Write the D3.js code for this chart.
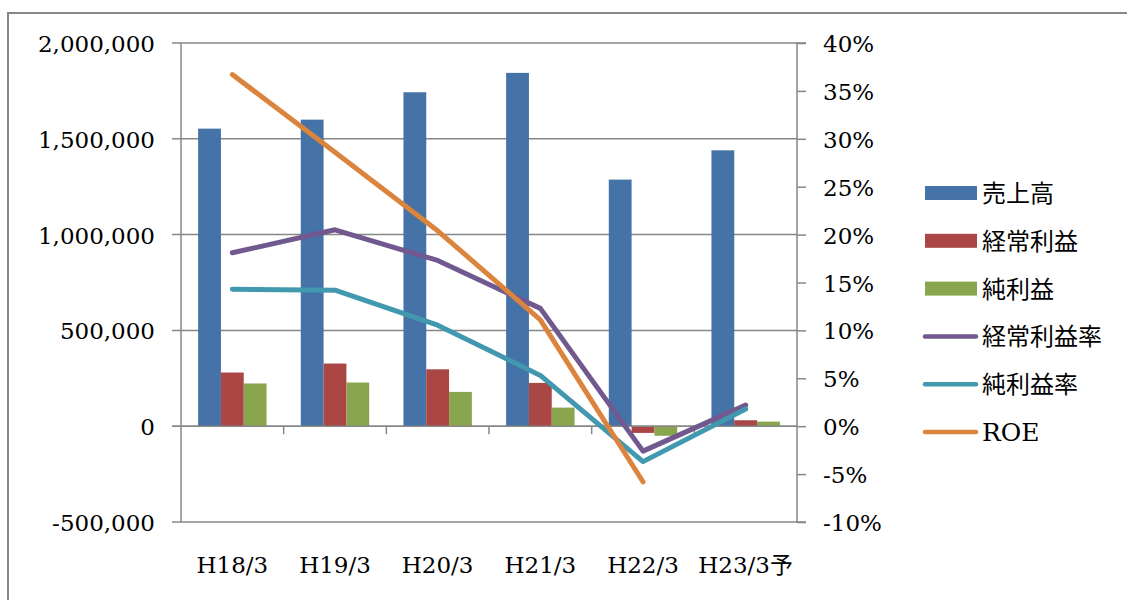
<!DOCTYPE html>
<html>
<head>
<meta charset="utf-8">
<script src="https://cdn.jsdelivr.net/npm/d3@7"></script>
<style>
  html, body { margin: 0; padding: 0; background: #fff; }
  svg { display: block; }
  .num { font-family: "DejaVu Serif", "Liberation Serif", serif; font-size: 23px; fill: #000; }
  .jp { font-family: "Noto Sans CJK JP", "DejaVu Serif", serif; font-size: 24px; fill: #000; }
</style>
</head>
<body>
<svg id="chart" width="1127" height="600"></svg>
<script>
// Fiscal periods
const categories = ["H18/3", "H19/3", "H20/3", "H21/3", "H22/3", "H23/3予"];

// Amounts (left axis)
const sales        = [1553000, 1600000, 1743000, 1844000, 1287000, 1440000]; // 売上高
const ordinary     = [280000, 327000, 297000, 226000, -35000, 31000];        // 経常利益
const netIncome    = [223000, 228000, 179000, 97000, -50000, 24000];         // 純利益

// Ratios (right axis)
const ordinaryRate = [0.181, 0.205, 0.173, 0.123, -0.026, 0.022];            // 経常利益率
const netRate      = [0.143, 0.142, 0.1055, 0.053, -0.037, 0.018];           // 純利益率
const roe          = [0.367, 0.286, 0.204, 0.111, -0.058, null];             // ROE

const leftTicks  = [-500000, 0, 500000, 1000000, 1500000, 2000000];
const rightTicks = [-0.10, -0.05, 0, 0.05, 0.10, 0.15, 0.20, 0.25, 0.30, 0.35, 0.40];

const barSeries = [
  { name: "売上高",   values: sales,     color: "#4572A7" },
  { name: "経常利益", values: ordinary,  color: "#AA4643" },
  { name: "純利益",   values: netIncome, color: "#89A54E" }
];
const lineSeries = [
  { name: "経常利益率", values: ordinaryRate, color: "#71588F" },
  { name: "純利益率",   values: netRate,      color: "#4198AF" },
  { name: "ROE",        values: roe,          color: "#DB843D" }
];

const svg = d3.select("#chart");
const gridColor = "#878787";

const plot = { left: 181, right: 797, top: 43, bottom: 522 };

const x = d3.scaleBand().domain(categories).range([plot.left, plot.right]).paddingInner(0).paddingOuter(0);
const yL = d3.scaleLinear().domain([-500000, 2000000]).range([plot.bottom, plot.top]);
const yR = d3.scaleLinear().domain([-0.10, 0.40]).range([plot.bottom, plot.top]);

// outer frame
svg.append("rect")
  .attr("x", 8).attr("y", 13).attr("width", 1130).attr("height", 600)
  .attr("fill", "none").attr("stroke", gridColor).attr("stroke-width", 2);

// horizontal gridlines (with outward tick on the left)
svg.append("g").selectAll("line").data(leftTicks).join("line")
  .attr("x1", plot.left - 9).attr("x2", plot.right)
  .attr("y1", d => yL(d)).attr("y2", d => yL(d))
  .attr("stroke", gridColor).attr("stroke-width", 1.5);

// bars: gap width 150% of a bar
const bw = x.bandwidth() / 4.5;
const barG = svg.append("g");
barSeries.forEach((s, i) => {
  barG.append("g").selectAll("rect").data(s.values).join("rect")
    .attr("x", (d, j) => x(categories[j]) + 0.75 * bw + i * bw)
    .attr("width", bw)
    .attr("y", d => Math.min(yL(d), yL(0)))
    .attr("height", d => Math.abs(yL(d) - yL(0)))
    .attr("fill", s.color);
});

// zero line over the bars
svg.append("line")
  .attr("x1", plot.left - 9).attr("x2", plot.right)
  .attr("y1", yL(0)).attr("y2", yL(0))
  .attr("stroke", gridColor).attr("stroke-width", 1.5);

// category tick marks below the zero line
svg.append("g").selectAll("line").data(categories.slice(1)).join("line")
  .attr("x1", d => x(d)).attr("x2", d => x(d))
  .attr("y1", yL(0)).attr("y2", yL(0) + 8)
  .attr("stroke", gridColor).attr("stroke-width", 1.5);

// left axis line
svg.append("line")
  .attr("x1", plot.left).attr("x2", plot.left)
  .attr("y1", plot.top).attr("y2", plot.bottom)
  .attr("stroke", gridColor).attr("stroke-width", 1.5);

// right axis
const rightAxis = d3.axisRight(yR).tickValues(rightTicks).tickSize(9).tickFormat("");
const ra = svg.append("g").attr("transform", `translate(${plot.right},0)`).call(rightAxis);
ra.select(".domain").attr("stroke", gridColor).attr("stroke-width", 1.5).attr("d", `M9,${plot.top}H0V${plot.bottom}H9`);
ra.selectAll(".tick line").attr("stroke", gridColor).attr("stroke-width", 1.5);

// lines
const cx = c => x(c) + x.bandwidth() / 2;
lineSeries.forEach(s => {
  const line = d3.line()
    .defined(d => d != null)
    .x((d, j) => cx(categories[j]))
    .y(d => yR(d));
  svg.append("path")
    .datum(s.values)
    .attr("d", line)
    .attr("fill", "none")
    .attr("stroke", s.color)
    .attr("stroke-width", 5)
    .attr("stroke-linejoin", "round")
    .attr("stroke-linecap", "round");
});

// left tick labels (plain hyphen for negatives)
const fmtL = d3.format(",");
svg.append("g").selectAll("text").data(leftTicks).join("text")
  .attr("class", "num")
  .attr("x", 155).attr("y", d => yL(d) + 9)
  .attr("text-anchor", "end")
  .text(d => fmtL(d).replace("\u2212", "-"));

// right tick labels
svg.append("g").selectAll("text").data(rightTicks).join("text")
  .attr("class", "num")
  .attr("x", 823).attr("y", d => yR(d) + 9)
  .text(d => Math.round(d * 100) + "%");

// category labels
svg.append("g").selectAll("text").data(categories).join("text")
  .attr("x", d => cx(d)).attr("y", 573)
  .attr("text-anchor", "middle")
  .each(function(d) {
    const t = d3.select(this);
    const m = d.match(/^([A-Za-z0-9\/]+)(.*)$/);
    t.append("tspan").attr("class", "num").text(m[1]);
    if (m[2]) t.append("tspan").attr("class", "jp").style("font-size", "23px").text(m[2]);
  });

// legend
const legendItems = [
  ...barSeries.map(s => ({ name: s.name, color: s.color, type: "bar" })),
  ...lineSeries.map(s => ({ name: s.name, color: s.color, type: "line" }))
];
const lg = svg.append("g");
legendItems.forEach((it, i) => {
  const yy = 193 + i * 47.8;
  if (it.type === "bar") {
    lg.append("rect").attr("x", 925).attr("y", yy - 7).attr("width", 52).attr("height", 14).attr("fill", it.color);
  } else {
    lg.append("line").attr("x1", 925).attr("x2", 976).attr("y1", yy).attr("y2", yy)
      .attr("stroke", it.color).attr("stroke-width", 4.5).attr("stroke-linecap", "round");
  }
  const isLatin = /^[A-Za-z]+$/.test(it.name);
  lg.append("text")
    .attr("class", isLatin ? "num" : "jp")
    .style("font-size", isLatin ? "25px" : "24px")
    .attr("x", 982).attr("y", yy + 9)
    .text(it.name);
});
</script>
</body>
</html>
